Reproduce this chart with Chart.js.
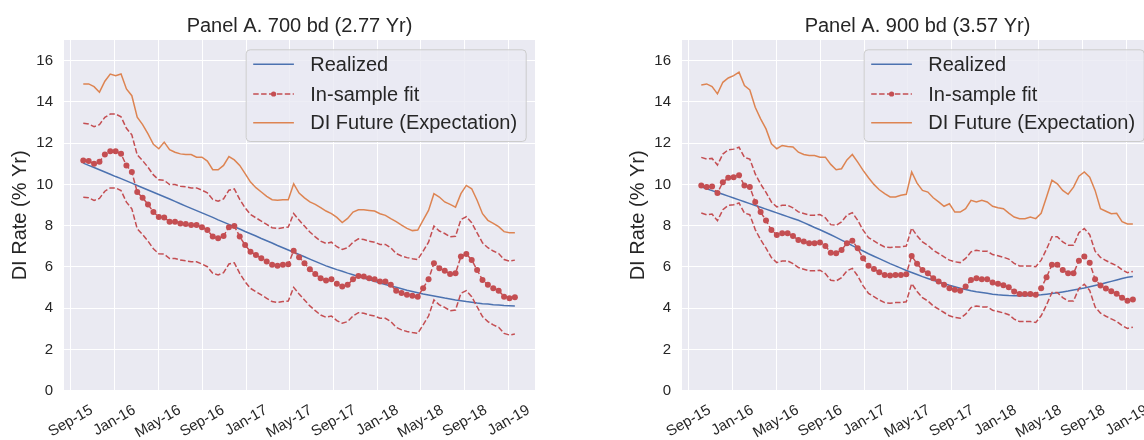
<!DOCTYPE html>
<html>
<head>
<meta charset="utf-8">
<script src="https://cdn.jsdelivr.net/npm/chart.js@4.4.1/dist/chart.umd.min.js"></script>
<style>
  html, body { margin: 0; padding: 0; background: #fff; overflow: hidden; width: 1144px; height: 440px; }
  .panel { position: absolute; top: 0; width: 599px; height: 440px; }
</style>
</head>
<body>
<div class="panel" style="left:0px"><canvas id="panelA" width="599" height="440"></canvas></div>
<div class="panel" style="left:618px"><canvas id="panelB" width="599" height="440"></canvas></div>
<script>
// days since 2015-09-01 (sampling dates of the series)
const days = [35,50,65,80,95,110,125,140,155,170,185,200,215,230,245,260,275,290,305,320,
  335,350,365,380,395,410,425,440,455,470,485,500,515,530,545,560,575,590,605,620,
  635,650,665,680,695,710,725,740,755,770,785,800,815,830,845,860,875,890,905,920,
  935,950,965,980,995,1010,1025,1040,1055,1070,1085,1100,1115,1130,1145,1160,1175,1190,1205,1220,1235];

// x tick positions (days since 2015-09-01) and their labels
const tickDays = [0,122,243,366,488,608,731,853,973,1096,1218];
const tickLabels = ['Sep-15','Jan-16','May-16','Sep-16','Jan-17','May-17','Sep-17','Jan-18','May-18','Sep-18','Jan-19'];
const yTicks = [0,2,4,6,8,10,12,14,16];

// Panel A. 700 bd
const realizedA = [11.03,10.92,10.82,10.71,10.6,10.49,10.38,10.28,10.17,10.06,
  9.95,9.84,9.73,9.62,9.51,9.4,9.29,9.18,9.06,8.95,
  8.84,8.73,8.62,8.51,8.4,8.28,8.17,8.06,7.95,7.84,
  7.72,7.61,7.5,7.38,7.27,7.16,7.04,6.93,6.82,6.71,
  6.6,6.49,6.38,6.27,6.16,6.05,5.96,5.87,5.79,5.7,
  5.62,5.54,5.46,5.38,5.3,5.22,5.15,5.08,5.01,4.94,
  4.87,4.81,4.75,4.69,4.64,4.59,4.54,4.49,4.45,4.4,
  4.36,4.32,4.29,4.25,4.22,4.2,4.17,4.15,4.13,4.12,4.11];
const fitA = [11.16,11.13,11.0,11.1,11.45,11.61,11.61,11.48,10.92,10.6,
  9.63,9.35,9.03,8.66,8.42,8.4,8.19,8.19,8.11,8.08,
  8.03,8.03,7.92,7.79,7.47,7.39,7.5,7.92,7.98,7.47,
  7.06,6.74,6.58,6.42,6.26,6.1,6.06,6.1,6.13,6.79,
  6.47,6.18,5.89,5.66,5.45,5.34,5.4,5.18,5.05,5.13,
  5.4,5.56,5.53,5.45,5.4,5.29,5.29,5.13,4.85,4.73,
  4.65,4.6,4.56,4.97,5.4,6.18,5.94,5.82,5.66,5.69,
  6.5,6.63,6.34,5.85,5.37,5.13,4.97,4.85,4.56,4.48,4.53];
const upperA = [12.96,12.93,12.8,12.9,13.25,13.41,13.41,13.28,12.72,12.4,
  11.43,11.15,10.83,10.46,10.22,10.2,9.99,9.99,9.91,9.88,
  9.83,9.83,9.72,9.59,9.27,9.19,9.3,9.72,9.78,9.27,
  8.86,8.54,8.38,8.22,8.06,7.9,7.86,7.9,7.93,8.59,
  8.27,7.98,7.69,7.46,7.25,7.14,7.2,6.98,6.85,6.93,
  7.2,7.36,7.33,7.25,7.2,7.09,7.09,6.93,6.65,6.53,
  6.45,6.4,6.36,6.77,7.2,7.98,7.74,7.62,7.46,7.49,
  8.3,8.43,8.14,7.65,7.17,6.93,6.77,6.65,6.36,6.28,6.33];
const lowerA = [9.38,9.35,9.22,9.32,9.67,9.83,9.83,9.7,9.14,8.82,
  7.85,7.57,7.25,6.88,6.64,6.62,6.41,6.41,6.33,6.3,
  6.25,6.25,6.14,6.01,5.69,5.61,5.72,6.14,6.2,5.69,
  5.28,4.96,4.8,4.64,4.48,4.32,4.28,4.32,4.35,5.01,
  4.69,4.4,4.11,3.88,3.67,3.56,3.62,3.4,3.27,3.35,
  3.62,3.78,3.75,3.67,3.62,3.51,3.51,3.35,3.07,2.95,
  2.87,2.82,2.78,3.19,3.62,4.4,4.16,4.04,3.88,3.91,
  4.72,4.85,4.56,4.07,3.59,3.35,3.19,3.07,2.78,2.7,2.75];
const futureA = [14.87,14.87,14.74,14.47,15.0,15.35,15.27,15.35,14.63,14.3,
  13.26,12.9,12.45,11.94,11.73,12.05,11.68,11.56,11.48,11.45,
  11.45,11.32,11.32,11.13,10.71,10.71,10.92,11.35,11.19,10.92,
  10.52,10.11,9.84,9.63,9.42,9.26,9.23,9.26,9.26,10.03,
  9.58,9.35,9.15,9.03,8.87,8.71,8.58,8.4,8.15,8.35,
  8.66,8.77,8.77,8.74,8.71,8.58,8.5,8.34,8.2,8.03,
  7.87,7.76,7.79,8.27,8.74,9.55,9.39,9.15,9.03,8.9,
  9.55,9.95,9.79,9.23,8.58,8.26,8.11,7.95,7.71,7.66,7.66];

// Panel A. 900 bd
const realizedB = [9.88,9.79,9.7,9.61,9.52,9.43,9.34,9.25,9.16,9.07,
  8.98,8.89,8.8,8.71,8.62,8.53,8.44,8.35,8.26,8.15,
  8.03,7.91,7.8,7.68,7.56,7.43,7.3,7.17,7.03,6.9,
  6.77,6.64,6.52,6.4,6.28,6.16,6.05,5.94,5.83,5.73,
  5.63,5.53,5.44,5.35,5.27,5.19,5.11,5.04,4.97,4.91,
  4.85,4.8,4.76,4.72,4.68,4.65,4.63,4.61,4.6,4.6,
  4.6,4.61,4.63,4.65,4.68,4.71,4.75,4.79,4.83,4.88,
  4.93,4.98,5.04,5.1,5.16,5.23,5.3,5.37,5.44,5.5,5.53];
const fitB = [9.95,9.87,9.9,9.58,10.11,10.32,10.35,10.44,9.95,9.87,
  9.15,8.66,8.25,7.79,7.55,7.63,7.63,7.5,7.31,7.23,
  7.15,7.15,7.18,7.02,6.69,6.66,6.82,7.15,7.27,6.9,
  6.42,6.06,5.9,5.74,5.61,5.58,5.61,5.61,5.65,6.53,
  6.15,5.85,5.69,5.45,5.29,5.13,4.97,4.89,4.85,5.05,
  5.37,5.45,5.4,5.4,5.24,5.18,5.11,5.02,4.81,4.69,
  4.69,4.69,4.65,4.97,5.5,6.1,6.1,5.85,5.69,5.69,
  6.3,6.5,6.2,5.4,5.1,4.95,4.82,4.7,4.5,4.36,4.42];
const upperB = [11.31,11.23,11.26,10.94,11.47,11.68,11.71,11.8,11.31,11.23,
  10.51,10.02,9.61,9.15,8.91,8.99,8.99,8.86,8.67,8.59,
  8.51,8.51,8.54,8.38,8.05,8.02,8.18,8.51,8.63,8.26,
  7.78,7.42,7.26,7.1,6.97,6.94,6.97,6.97,7.01,7.89,
  7.51,7.21,7.05,6.81,6.65,6.49,6.33,6.25,6.21,6.41,
  6.73,6.81,6.76,6.76,6.6,6.54,6.47,6.38,6.17,6.05,
  6.05,6.05,6.01,6.33,6.86,7.46,7.46,7.21,7.05,7.05,
  7.66,7.86,7.56,6.76,6.46,6.31,6.18,6.06,5.86,5.72,5.78];
const lowerB = [8.61,8.53,8.56,8.24,8.77,8.98,9.01,9.1,8.61,8.53,
  7.81,7.32,6.91,6.45,6.21,6.29,6.29,6.16,5.97,5.89,
  5.81,5.81,5.84,5.68,5.35,5.32,5.48,5.81,5.93,5.56,
  5.08,4.72,4.56,4.4,4.27,4.24,4.27,4.27,4.31,5.19,
  4.81,4.51,4.35,4.11,3.95,3.79,3.63,3.55,3.51,3.71,
  4.03,4.11,4.06,4.06,3.9,3.84,3.77,3.68,3.47,3.35,
  3.35,3.35,3.31,3.63,4.16,4.76,4.76,4.51,4.35,4.35,
  4.96,5.16,4.86,4.06,3.76,3.61,3.48,3.36,3.16,3.02,3.08];
const futureB = [14.82,14.87,14.74,14.39,14.95,15.16,15.27,15.44,14.79,14.58,
  13.74,13.18,12.69,11.97,11.73,11.89,11.84,11.81,11.56,11.45,
  11.4,11.4,11.32,11.32,10.97,10.71,10.76,11.19,11.45,11.08,
  10.68,10.32,10.0,9.74,9.55,9.39,9.39,9.47,9.52,10.6,
  10.06,9.71,9.63,9.35,9.15,8.94,9.06,8.66,8.66,8.82,
  9.23,9.15,9.23,9.15,8.94,8.87,8.82,8.61,8.42,8.34,
  8.34,8.42,8.34,8.6,9.39,10.2,10.03,9.71,9.52,9.87,
  10.4,10.6,10.35,9.71,8.82,8.7,8.58,8.6,8.19,8.08,8.08];

const BLUE = '#4C72B0';
const RED = '#C44E52';
const ORANGE = '#DD8452';
const TEXT = '#262626';
const FONT = '"Liberation Sans", Arial, sans-serif';
const DASH = [5.5, 2.4];

Chart.defaults.font.family = FONT;

// axes face colour (seaborn darkgrid)
const facePlugin = {
  id: 'face',
  beforeDraw(chart) {
    const a = chart.chartArea, ctx = chart.ctx;
    ctx.save();
    ctx.fillStyle = '#EAEAF2';
    ctx.fillRect(a.left, a.top, a.right - a.left, a.bottom - a.top);
    ctx.restore();
  }
};

// panel title centred over the axes, rotated date labels centred under each tick
const textPlugin = {
  id: 'panelText',
  afterDraw(chart, args, opts) {
    const ctx = chart.ctx, xs = chart.scales.x, a = chart.chartArea;
    ctx.save();
    ctx.fillStyle = TEXT;
    ctx.textAlign = 'center';
    ctx.textBaseline = 'middle';
    ctx.font = '20px ' + FONT;
    ctx.fillText(opts.title, (a.left + a.right) / 2, a.top - 14);

    const top = a.bottom + 11;
    const ang = 30 * Math.PI / 180;
    ctx.font = '15px ' + FONT;
    tickDays.forEach((d, i) => {
      const w = ctx.measureText(tickLabels[i]).width;
      const H = w * Math.sin(ang) + 17 * Math.cos(ang);
      ctx.save();
      ctx.translate(xs.getPixelForValue(d), top + H / 2);
      ctx.rotate(-ang);
      ctx.fillText(tickLabels[i], 0, 0);
      ctx.restore();
    });
    ctx.restore();
  }
};

// legend box in the upper right corner of the axes
const legendPlugin = {
  id: 'boxLegend',
  afterDatasetsDraw(chart) {
    const a = chart.chartArea, ctx = chart.ctx;
    const w = 280, h = 91.7;
    const x0 = a.right - 9.3 - w, y0 = a.top + 9.3;
    ctx.save();
    ctx.beginPath();
    ctx.roundRect(x0 + 0.5, y0 + 0.5, w, h, 4);
    ctx.fillStyle = 'rgba(234,234,242,0.8)';
    ctx.fill();
    ctx.strokeStyle = '#cccccc';
    ctx.lineWidth = 1;
    ctx.stroke();

    const rows = [
      {text: 'Realized', color: BLUE, dash: [], dot: false},
      {text: 'In-sample fit', color: RED, dash: DASH, dot: true},
      {text: 'DI Future (Expectation)', color: ORANGE, dash: [], dot: false}
    ];
    const rowY = [15, 44.7, 73.4];
    ctx.font = '20px ' + FONT;
    ctx.textBaseline = 'middle';
    rows.forEach((r, i) => {
      const y = y0 + rowY[i];
      ctx.beginPath();
      ctx.setLineDash(r.dash);
      ctx.strokeStyle = r.color;
      ctx.lineWidth = 1.5;
      ctx.moveTo(x0 + 7.5, y);
      ctx.lineTo(x0 + 48.2, y);
      ctx.stroke();
      ctx.setLineDash([]);
      if (r.dot) {
        ctx.beginPath();
        ctx.fillStyle = r.color;
        ctx.arc(x0 + 27.9, y, 2.6, 0, Math.PI * 2);
        ctx.fill();
      }
      ctx.fillStyle = TEXT;
      ctx.fillText(r.text, x0 + 64.6, y + 1);
    });
    ctx.restore();
  }
};

function pts(vals) {
  return days.map((d, i) => ({x: d, y: vals[i]}));
}

function makePanel(id, title, realized, fit, upper, lower, future) {
  return new Chart(document.getElementById(id), {
    type: 'line',
    data: {
      datasets: [
        {label: 'Realized', data: pts(realized), borderColor: BLUE, borderWidth: 1.5, pointRadius: 0, order: 4},
        {label: 'upper', data: pts(upper), borderColor: RED, borderWidth: 1.5, borderDash: DASH, pointRadius: 0, order: 3},
        {label: 'lower', data: pts(lower), borderColor: RED, borderWidth: 1.5, borderDash: DASH, pointRadius: 0, order: 3},
        {label: 'In-sample fit', data: pts(fit), borderColor: RED, borderWidth: 1.5, borderDash: DASH,
          pointRadius: 3, pointBorderWidth: 0, pointBackgroundColor: RED, order: 2},
        {label: 'DI Future (Expectation)', data: pts(future), borderColor: ORANGE, borderWidth: 1.5, pointRadius: 0, order: 1}
      ]
    },
    options: {
      responsive: false,
      animation: false,
      devicePixelRatio: 1,
      layout: {padding: {left: 0, right: 64, top: 40, bottom: 0}},
      plugins: {
        legend: {display: false},
        tooltip: {enabled: false},
        title: {display: false},
        panelText: {title: title}
      },
      scales: {
        x: {
          type: 'linear', min: -18.6, max: 1291,
          afterBuildTicks: s => { s.ticks = tickDays.map(v => ({value: v})); },
          afterFit: s => { s.height = 49.3; },
          ticks: {display: false},
          grid: {color: '#ffffff', lineWidth: 1, drawTicks: false},
          border: {display: false}
        },
        y: {
          min: 0, max: 17,
          afterBuildTicks: s => { s.ticks = yTicks.map(v => ({value: v})); },
          afterFit: s => { s.width = 64; },
          ticks: {color: TEXT, font: {size: 15, family: FONT}, padding: 11},
          grid: {color: '#ffffff', lineWidth: 1, drawTicks: false},
          border: {display: false},
          title: {
            display: true, text: 'DI Rate (% Yr)', color: TEXT,
            font: {size: 20, family: FONT}, padding: {top: 8, bottom: 0}
          }
        }
      }
    },
    plugins: [facePlugin, textPlugin, legendPlugin]
  });
}

makePanel('panelA', 'Panel A. 700 bd (2.77 Yr)', realizedA, fitA, upperA, lowerA, futureA);
makePanel('panelB', 'Panel A. 900 bd (3.57 Yr)', realizedB, fitB, upperB, lowerB, futureB);
</script>
</body>
</html>
